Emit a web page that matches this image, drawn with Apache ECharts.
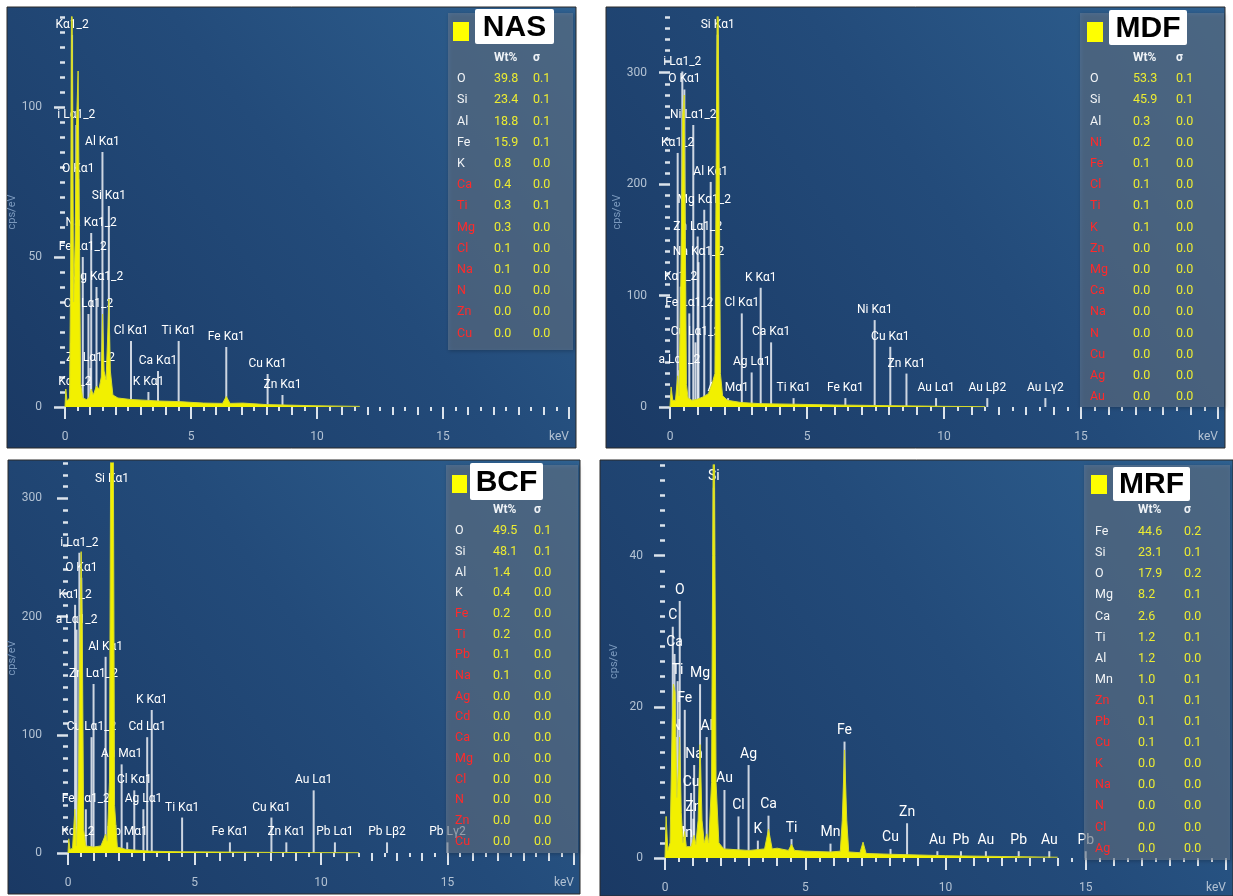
<!DOCTYPE html>
<html>
<head>
<meta charset="utf-8">
<title>EDS spectra NAS / MDF / BCF / MRF</title>
<script src="https://cdn.jsdelivr.net/npm/echarts@6.0.0/dist/echarts.min.js"></script>
<style>
  html, body { margin: 0; padding: 0; background: #ffffff; }
  #chart { width: 1233px; height: 896px; }
</style>
</head>
<body>
<div id="chart"></div>
<script>
// ---- NAS ----
var nasKeV = [0.00,0.03,0.08,0.18,0.22,0.25,0.27,0.30,0.34,0.40,0.46,0.52,0.57,0.62,0.70,0.85,0.95,1.04,1.12,1.25,1.35,1.44,1.49,1.55,1.63,1.70,1.74,1.80,1.90,2.10,2.60,3.30,3.70,4.50,5.50,6.25,6.40,6.55,7.06,8.00,10.0,11.7];
var nasCps = [0,6,2,3,40,120,150,110,35,55,95,112,60,8,3,2.5,3,6,4,7,6,10,31,12,9,25,36,12,4,3,2.5,2.2,2,1.8,1.3,1.2,3.5,1.2,1.3,0.8,0.4,0.2];
var nasLineKeV = [0.28,0.45,0.525,1.486,1.74,1.04,0.705,1.25,0.93,2.62,4.51,6.40,1.01,3.69,8.04,3.31,0.39,8.63];
var nasLineCps = [124,94,76,85,67,58,50,40,31,22,22,20,13,12,11,5,5,4];
var nasLineName = ['Kα1_2','i Lα1_2','O Kα1','Al Kα1','Si Kα1','Na Kα1_2','Fe Lα1_2','Mg Kα1_2','Cu Lα1_2','Cl Kα1','Ti Kα1','Fe Kα1','Zn Lα1_2','Ca Kα1','Cu Kα1','K Kα1','Kα1_2','Zn Kα1'];
var nasElem = ['O','Si','Al','Fe','K','Ca','Ti','Mg','Cl','Na','N','Zn','Cu'];
var nasWt = [39.8,23.4,18.8,15.9,0.8,0.4,0.3,0.3,0.1,0.1,0.0,0.0,0.0];
var nasSigma = [0.1,0.1,0.1,0.1,0.0,0.0,0.1,0.0,0.0,0.0,0.0,0.0,0.0];
var nasQuant = 5;

// ---- MDF ----
var mdfKeV = [0.00,0.04,0.10,0.20,0.28,0.33,0.40,0.46,0.52,0.56,0.60,0.66,0.80,1.00,1.20,1.40,1.55,1.64,1.70,1.74,1.78,1.84,1.92,2.10,2.60,3.30,4.50,6.00,8.00,10.0,11.5];
var mdfCps = [0,18,6,6,28,10,120,260,280,150,20,8,6,7,9,12,22,30,280,420,280,30,10,6,4,3,2.5,1.8,1.2,0.6,0.3];
var mdfLineKeV = [1.74,0.45,0.525,0.85,0.28,1.486,1.25,1.01,1.04,0.39,3.31,0.705,2.62,0.93,3.69,0.34,2.98,2.12,4.51,6.40,7.47,8.04,8.63,9.71,11.58,13.7];
var mdfLineCps = [334,301,285,253,228,202,177,153,130,108,107,84,84,58,58,33,31,8,8,8,78,54,30,8,8,8];
var mdfLineName = ['Si Kα1','i Lα1_2','O Kα1','Ni Lα1_2','Kα1_2','Al Kα1','Mg Kα1_2','Zn Lα1_2','Na Kα1_2','Kα1_2','K Kα1','Fe Lα1_2','Cl Kα1','Cu Lα1_2','Ca Kα1','a Lα1_2','Ag Lα1','Au Mα1','Ti Kα1','Fe Kα1','Ni Kα1','Cu Kα1','Zn Kα1','Au Lα1','Au Lβ2','Au Lγ2'];
var mdfElem = ['O','Si','Al','Ni','Fe','Cl','Ti','K','Zn','Mg','Ca','Na','N','Cu','Ag','Au'];
var mdfWt = [53.3,45.9,0.3,0.2,0.1,0.1,0.1,0.1,0.0,0.0,0.0,0.0,0.0,0.0,0.0,0.0];
var mdfSigma = [0.1,0.1,0.0,0.0,0.0,0.0,0.0,0.0,0.0,0.0,0.0,0.0,0.0,0.0,0.0,0.0];
var mdfQuant = 3;

// ---- BCF ----
var bcfKeV = [0.00,0.03,0.08,0.18,0.27,0.33,0.42,0.48,0.52,0.56,0.62,0.70,1.00,1.30,1.49,1.55,1.64,1.70,1.74,1.78,1.84,1.95,2.30,3.30,4.50,6.00,8.00,10.0,11.5];
var bcfCps = [0,12,3,4,37,6,60,200,255,200,20,6,5,6,16,10,60,420,600,420,40,5,3,1.5,1,0.8,0.5,0.3,0.2];
var bcfLineKeV = [1.74,0.45,0.525,0.28,0.34,1.486,1.01,3.31,0.93,3.13,2.12,2.62,0.705,2.98,4.51,0.39,2.34,6.40,8.04,8.63,9.71,10.55,12.61,15.0];
var bcfLineCps = [308,254,233,210,189,166,143,121,98,98,75,53,37,37,30,9,9,9,30,9,53,9,9,9];
var bcfLineName = ['Si Kα1','i Lα1_2','O Kα1','Kα1_2','a Lα1_2','Al Kα1','Zn Lα1_2','K Kα1','Cu Lα1_2','Cd Lα1','Au Mα1','Cl Kα1','Fe Lα1_2','Ag Lα1','Ti Kα1','Kα1_2','Pb Mα1','Fe Kα1','Cu Kα1','Zn Kα1','Au Lα1','Pb Lα1','Pb Lβ2','Pb Lγ2'];
var bcfElem = ['O','Si','Al','K','Fe','Ti','Pb','Na','Ag','Cd','Ca','Mg','Cl','N','Zn','Cu'];
var bcfWt = [49.5,48.1,1.4,0.4,0.2,0.2,0.1,0.1,0.0,0.0,0.0,0.0,0.0,0.0,0.0,0.0];
var bcfSigma = [0.1,0.1,0.0,0.0,0.0,0.0,0.0,0.0,0.0,0.0,0.0,0.0,0.0,0.0,0.0,0.0];
var bcfQuant = 4;

// ---- MRF ----
var mrfKeV = [0.00,0.04,0.10,0.18,0.26,0.30,0.36,0.42,0.48,0.52,0.58,0.64,0.70,0.76,0.93,1.04,1.10,1.18,1.25,1.32,1.40,1.49,1.56,1.66,1.70,1.74,1.78,1.82,1.92,2.10,3.00,3.55,3.69,3.82,4.00,4.40,4.51,4.62,5.00,5.90,6.25,6.32,6.40,6.48,6.55,6.95,7.06,7.17,8.00,10.0,12.0,14.0];
var mrfCps = [0,5.5,1,2,18,23,22,8,12,16,6,2,3.5,1.5,1.5,3,1.8,5,15,5,2,3.2,2,10,40,70,40,10,2,1.2,1,1.2,3.8,1.2,1.3,1,1.8,1,0.9,0.8,0.9,5,14.3,5,0.8,0.7,2.1,0.6,0.5,0.3,0.2,0.1];
var mrfLineKeV = [1.74,0.525,0.277,0.34,0.45,1.25,0.705,0.39,1.486,1.04,2.98,2.12,0.93,2.62,3.69,1.01,3.31,0.64,4.51,5.90,6.40,8.04,8.63,9.71,10.55,11.44,12.61,13.7,15.0];
var mrfLineCps = [49,34,30.6,27,23.4,23,19.6,16,16,12.3,12.3,9,8.6,5.5,5.6,5.2,2.3,1.8,2.5,1.9,15.4,1.2,4.6,0.9,0.9,0.9,0.9,0.9,0.9];
var mrfLineName = ['Si','O','C','Ca','Ti','Mg','Fe','N','Al','Na','Ag','Au','Cu','Cl','Ca','Zn','K','Mn','Ti','Mn','Fe','Cu','Zn','Au','Pb','Au','Pb','Au','Pb'];
var mrfElem = ['Fe','Si','O','Mg','Ca','Ti','Al','Mn','Zn','Pb','Cu','K','Na','N','Cl','Ag'];
var mrfWt = [44.6,23.1,17.9,8.2,2.6,1.2,1.2,1.0,0.1,0.1,0.1,0.0,0.0,0.0,0.0,0.0];
var mrfSigma = [0.2,0.1,0.2,0.1,0.0,0.1,0.0,0.1,0.1,0.1,0.1,0.0,0.0,0.0,0.0,0.0];
var mrfQuant = 8;

var FONT = "Roboto, 'Noto Sans', sans-serif";
var tickColor = '#dbe3ec';
var labelColor = '#b3c2d3';

// layout of the four panels
var panels = [
  { tag: 'NAS', keV: nasKeV, cps: nasCps, lineKeV: nasLineKeV, lineCps: nasLineCps, lineName: nasLineName,
    elem: nasElem, wt: nasWt, sigma: nasSigma, quant: nasQuant,
    yMax: 130, yTicks: [0, 50, 100], yStep: 5,
    frame: [7, 7, 569, 441], grid: { left: 65, top: 17, width: 504, height: 390 },
    yOffset: 7, yMargin: 16, nameGap: 35, markFont: 12,
    box: [448, 13, 125, 337], square: [453, 22, 16, 19], tagBox: [475, 9, 79, 35],
    headY: 58, valX: 494, sigX: 533, elX: 457, rowY: 79, rowDy: 21.2 },
  { tag: 'MDF', keV: mdfKeV, cps: mdfCps, lineKeV: mdfLineKeV, lineCps: mdfLineCps, lineName: mdfLineName,
    elem: mdfElem, wt: mdfWt, sigma: mdfSigma, quant: mdfQuant,
    yMax: 350, yTicks: [0, 100, 200, 300], yStep: 10,
    frame: [606, 7, 619, 441], grid: { left: 670, top: 17, width: 548, height: 390 },
    yOffset: 8, yMargin: 15, nameGap: 37, markFont: 12,
    box: [1080, 13, 144, 394], square: [1087, 22, 16, 20], tagBox: [1109, 10, 78, 35],
    headY: 58, valX: 1133, sigX: 1176, elX: 1090, rowY: 79, rowDy: 21.2 },
  { tag: 'BCF', keV: bcfKeV, cps: bcfCps, lineKeV: bcfLineKeV, lineCps: bcfLineCps, lineName: bcfLineName,
    elem: bcfElem, wt: bcfWt, sigma: bcfSigma, quant: bcfQuant,
    yMax: 330, yTicks: [0, 100, 200, 300], yStep: 10,
    frame: [8, 460, 572, 434], grid: { left: 68, top: 463, width: 506, height: 390 },
    yOffset: 10, yMargin: 16, nameGap: 27, markFont: 12,
    box: [446, 465, 132, 388], square: [452, 475, 15, 18], tagBox: [470, 463, 73, 37],
    headY: 510, valX: 493, sigX: 534, elX: 455, rowY: 531, rowDy: 20.7 },
  { tag: 'MRF', keV: mrfKeV, cps: mrfCps, lineKeV: mrfLineKeV, lineCps: mrfLineCps, lineName: mrfLineName,
    elem: mrfElem, wt: mrfWt, sigma: mrfSigma, quant: mrfQuant,
    yMax: 52, yTicks: [0, 20, 40], yStep: 2,
    frame: [600, 460, 633, 436], grid: { left: 665, top: 465, width: 561, height: 393 },
    yOffset: 7, yMargin: 15, nameGap: 38, markFont: 14,
    box: [1084, 465, 146, 395], square: [1091, 475, 16, 19], tagBox: [1113, 467, 77, 34],
    headY: 510, valX: 1138, sigX: 1184, elX: 1095, rowY: 532, rowDy: 21.1 }
];

function txt(x, y, s, color, font, align) {
  return {
    type: 'text', z: 12, x: x, y: y,
    style: { text: s, fill: color, font: font, textAlign: align || 'left', align: align || 'left',
             textVerticalAlign: 'middle', verticalAlign: 'middle' }
  };
}

var graphics = [];
var option = {
  animation: false,
  backgroundColor: '#ffffff',
  grid: [], xAxis: [], yAxis: [], series: [], graphic: graphics
};

panels.forEach(function (p, i) {
  // panel background
  graphics.push({
    type: 'rect', z: -10,
    shape: { x: p.frame[0], y: p.frame[1], width: p.frame[2], height: p.frame[3] },
    style: {
      fill: { type: 'linear', x: 0, y: 1, x2: 1, y2: 0,
              colorStops: [{ offset: 0, color: '#1a3964' }, { offset: 0.55, color: '#234b7a' }, { offset: 1, color: '#2f6191' }] },
      stroke: '#2a2a2a', lineWidth: 1
    }
  });
  // result table
  graphics.push({
    type: 'rect', z: 10,
    shape: { x: p.box[0], y: p.box[1], width: p.box[2], height: p.box[3] },
    style: { fill: 'rgba(112,128,150,0.52)', shadowBlur: 4, shadowColor: 'rgba(0,0,0,0.45)', shadowOffsetX: 1, shadowOffsetY: 1 }
  });
  graphics.push({
    type: 'rect', z: 11,
    shape: { x: p.square[0], y: p.square[1], width: p.square[2], height: p.square[3] },
    style: { fill: '#ffff00' }
  });
  graphics.push({
    type: 'rect', z: 11,
    shape: { x: p.tagBox[0], y: p.tagBox[1], width: p.tagBox[2], height: p.tagBox[3], r: 2 },
    style: { fill: '#ffffff' }
  });
  graphics.push(txt(p.tagBox[0] + p.tagBox[2] / 2, p.tagBox[1] + p.tagBox[3] / 2 + 1, p.tag, '#000000',
                    "bold 30px 'Liberation Sans', Arial, sans-serif", 'center'));
  graphics.push(txt(p.valX, p.headY, 'Wt%', '#eef2f6', 'bold 12px ' + FONT));
  graphics.push(txt(p.sigX, p.headY, 'σ', '#eef2f6', 'bold 12px ' + FONT));
  p.elem.forEach(function (el, k) {
    var y = p.rowY + k * p.rowDy;
    graphics.push(txt(p.elX, y, el, k < p.quant ? '#f2f4f6' : '#ff2a2a', '12.5px ' + FONT));
    graphics.push(txt(p.valX, y, p.wt[k].toFixed(1), '#ecec32', '12.5px ' + FONT));
    graphics.push(txt(p.sigX, y, p.sigma[k].toFixed(1), '#ecec32', '12.5px ' + FONT));
  });

  option.grid.push({ left: p.grid.left, top: p.grid.top, width: p.grid.width, height: p.grid.height });

  // x axes: major (every 5 keV) and minor (1 keV, half-keV minor ticks)
  option.xAxis.push({
    gridIndex: i, type: 'value', position: 'bottom', min: 0, max: 20, interval: 5, offset: 4,
    axisLine: { show: false }, splitLine: { show: false },
    axisTick: { length: 12, lineStyle: { color: tickColor, width: 2 } },
    axisLabel: { color: labelColor, fontSize: 12, fontFamily: FONT, margin: 20, alignMaxLabel: 'right',
                 formatter: function (v) { return v === 20 ? 'keV' : String(v); } }
  });
  option.xAxis.push({
    gridIndex: i, type: 'value', position: 'bottom', min: 0, max: 20, interval: 1, offset: 4,
    axisLine: { show: false }, splitLine: { show: false }, axisLabel: { show: false },
    axisTick: { length: 8, lineStyle: { color: tickColor, width: 2 } },
    minorTick: { show: true, splitNumber: 2, length: 4, lineStyle: { color: tickColor, width: 2 } }
  });
  // y axes: labelled and fine ticks
  option.yAxis.push({
    gridIndex: i, type: 'value', position: 'left', min: 0, max: p.yMax, offset: p.yOffset,
    axisLine: { show: false }, splitLine: { show: false },
    axisTick: { show: true, length: 11, customValues: p.yTicks, lineStyle: { color: tickColor, width: 2.5 } },
    axisLabel: { customValues: p.yTicks, color: labelColor, fontSize: 12, fontFamily: FONT, margin: p.yMargin },
    name: 'cps/eV', nameLocation: 'middle', nameGap: p.nameGap,
    nameTextStyle: { color: '#7b99bd', fontSize: 11, fontFamily: FONT }
  });
  option.yAxis.push({
    gridIndex: i, type: 'value', position: 'left', min: 0, max: p.yMax, interval: p.yStep, offset: p.yOffset,
    axisLine: { show: false }, splitLine: { show: false }, axisLabel: { show: false },
    axisTick: { show: true, length: 5, lineStyle: { color: tickColor, width: 2.5 } }
  });

  // element marker lines
  option.series.push({
    type: 'bar', xAxisIndex: 2 * i, yAxisIndex: 2 * i, barWidth: 2, z: 2,
    itemStyle: { color: 'rgba(236,240,246,0.85)' },
    label: { show: true, position: 'top', distance: 4, formatter: '{b}', color: '#ffffff',
             fontSize: p.markFont, fontFamily: FONT },
    data: p.lineKeV.map(function (e, k) { return { name: p.lineName[k], value: [e, p.lineCps[k]] }; })
  });
  // spectrum
  option.series.push({
    type: 'line', xAxisIndex: 2 * i, yAxisIndex: 2 * i, z: 3,
    showSymbol: false, symbol: 'none',
    lineStyle: { color: '#d6da2c', width: 1 },
    areaStyle: { color: '#f2f000', opacity: 1 },
    data: p.keV.map(function (e, k) { return [e, p.cps[k]]; })
  });
});

var chart = echarts.init(document.getElementById('chart'));
chart.setOption(option);
</script>
</body>
</html>
